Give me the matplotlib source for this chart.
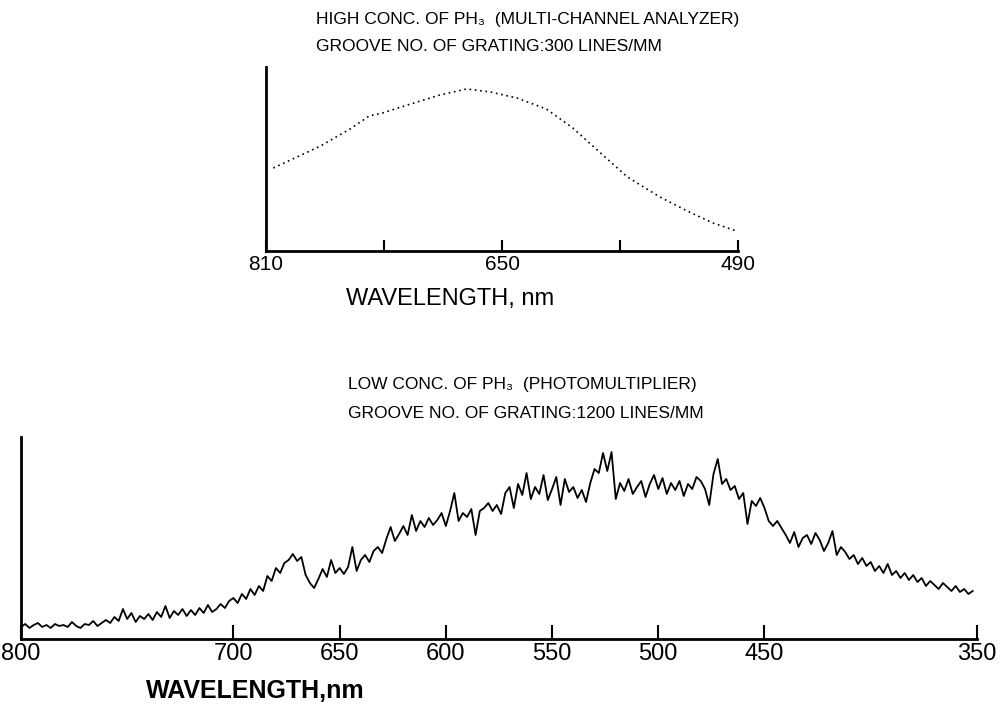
import numpy as np
import matplotlib.pyplot as plt

plt.rcParams['font.family'] = ['Liberation Sans Narrow', 'Liberation Sans', 'DejaVu Sans']

# high conc. spectrum (multi-channel analyzer)
wl_high = [805, 773, 753, 740, 731, 714, 692, 674, 658, 640, 620, 602, 584, 565, 543, 523, 507, 491]
int_high = [83, 105, 122, 135, 138, 146, 156, 162, 159, 153, 142, 123, 99, 74, 54, 39, 28, 20]
ticks_high = [810, 730, 650, 570, 490]
labels_high = ['810', '', '650', '', '490']

# low conc. spectrum (photomultiplier), one reading every 2 nm from 800 to 352 nm
int_low = [
    12, 15, 11, 14, 16, 12, 14, 11, 15, 13,
    14, 12, 17, 13, 11, 15, 14, 18, 13, 16,
    19, 16, 22, 18, 30, 20, 26, 17, 23, 20,
    25, 19, 27, 22, 33, 21, 28, 24, 30, 23,
    29, 24, 31, 26, 34, 27, 30, 35, 31, 38,
    41, 36, 45, 40, 50, 44, 53, 48, 63, 58,
    71, 66, 76, 79, 85, 78, 82, 64, 56, 51,
    60, 70, 62, 79, 66, 71, 65, 72, 92, 68,
    79, 84, 77, 88, 92, 86, 100, 112, 98, 105,
    113, 104, 124, 108, 118, 112, 121, 114, 119, 126,
    113, 128, 146, 118, 126, 122, 130, 104, 128, 131,
    136, 128, 134, 125, 146, 152, 131, 155, 144, 166,
    140, 152, 145, 164, 139, 150, 162, 134, 160, 147,
    152, 141, 149, 137, 156, 170, 166, 186, 168, 187,
    140, 156, 148, 160, 145, 152, 158, 142, 155, 164,
    150, 161, 145, 156, 149, 158, 143, 155, 150, 162,
    158, 150, 134, 165, 180, 155, 160, 149, 153, 140,
    146, 115, 138, 133, 141, 131, 118, 113, 118, 111,
    104, 96, 107, 92, 101, 104, 95, 106, 99, 88,
    96, 108, 84, 92, 87, 80, 84, 75, 81, 73,
    77, 68, 73, 66, 75, 64, 68, 61, 66, 59,
    64, 57, 61, 53, 58, 54, 50, 56, 52, 48,
    53, 47, 50, 45, 48,
]
wl_low = np.linspace(800, 352, len(int_low))
ticks_low = [800, 700, 650, 600, 550, 500, 450, 350]

fig = plt.figure(figsize=(10.03, 7.10), dpi=100)

# top panel
ax1 = fig.add_axes([0.2652, 0.6465, 0.4706, 0.2592])
ax1.plot(wl_high, int_high, color='black', lw=1.2, linestyle=(0, (1, 2.2)))
ax1.set_xlim(810, 490)
ax1.set_ylim(0, 184)
ax1.set_xticks(ticks_high)
ax1.set_xticklabels(labels_high)
ax1.set_yticks([])
ax1.tick_params(axis='x', direction='in', length=8, width=1.5, pad=3, labelsize=15)
ax1.set_xlabel('WAVELENGTH, nm', fontsize=17)
ax1.xaxis.set_label_coords(0.39, -0.2)

# bottom panel
ax2 = fig.add_axes([0.0209, 0.1, 0.9531, 0.2845])
ax2.plot(wl_low, int_low, color='black', lw=1.3)
ax2.set_xlim(800, 350)
ax2.set_ylim(0, 202)
ax2.set_xticks(ticks_low)
ax2.set_yticks([])
ax2.tick_params(axis='x', direction='in', length=10, width=1.5, pad=3, labelsize=17)
ax2.set_xlabel('WAVELENGTH,nm', fontsize=18, fontweight='bold')
ax2.xaxis.set_label_coords(0.245, -0.2)

for ax in (ax1, ax2):
    for s in ('top', 'right'):
        ax.spines[s].set_visible(False)
    for s in ('left', 'bottom'):
        ax.spines[s].set_linewidth(2)

fig.text(0.315, 0.972, 'HIGH CONC. OF PH\u2083  (MULTI-CHANNEL ANALYZER)', fontsize=12.5, va='center')
fig.text(0.315, 0.934, 'GROOVE NO. OF GRATING:300 LINES/MM', fontsize=12.5, va='center')
fig.text(0.347, 0.458, 'LOW CONC. OF PH\u2083  (PHOTOMULTIPLIER)', fontsize=12.5, va='center')
fig.text(0.347, 0.418, 'GROOVE NO. OF GRATING:1200 LINES/MM', fontsize=12.5, va='center')

fig.savefig('out.png', dpi=100, facecolor='white')
